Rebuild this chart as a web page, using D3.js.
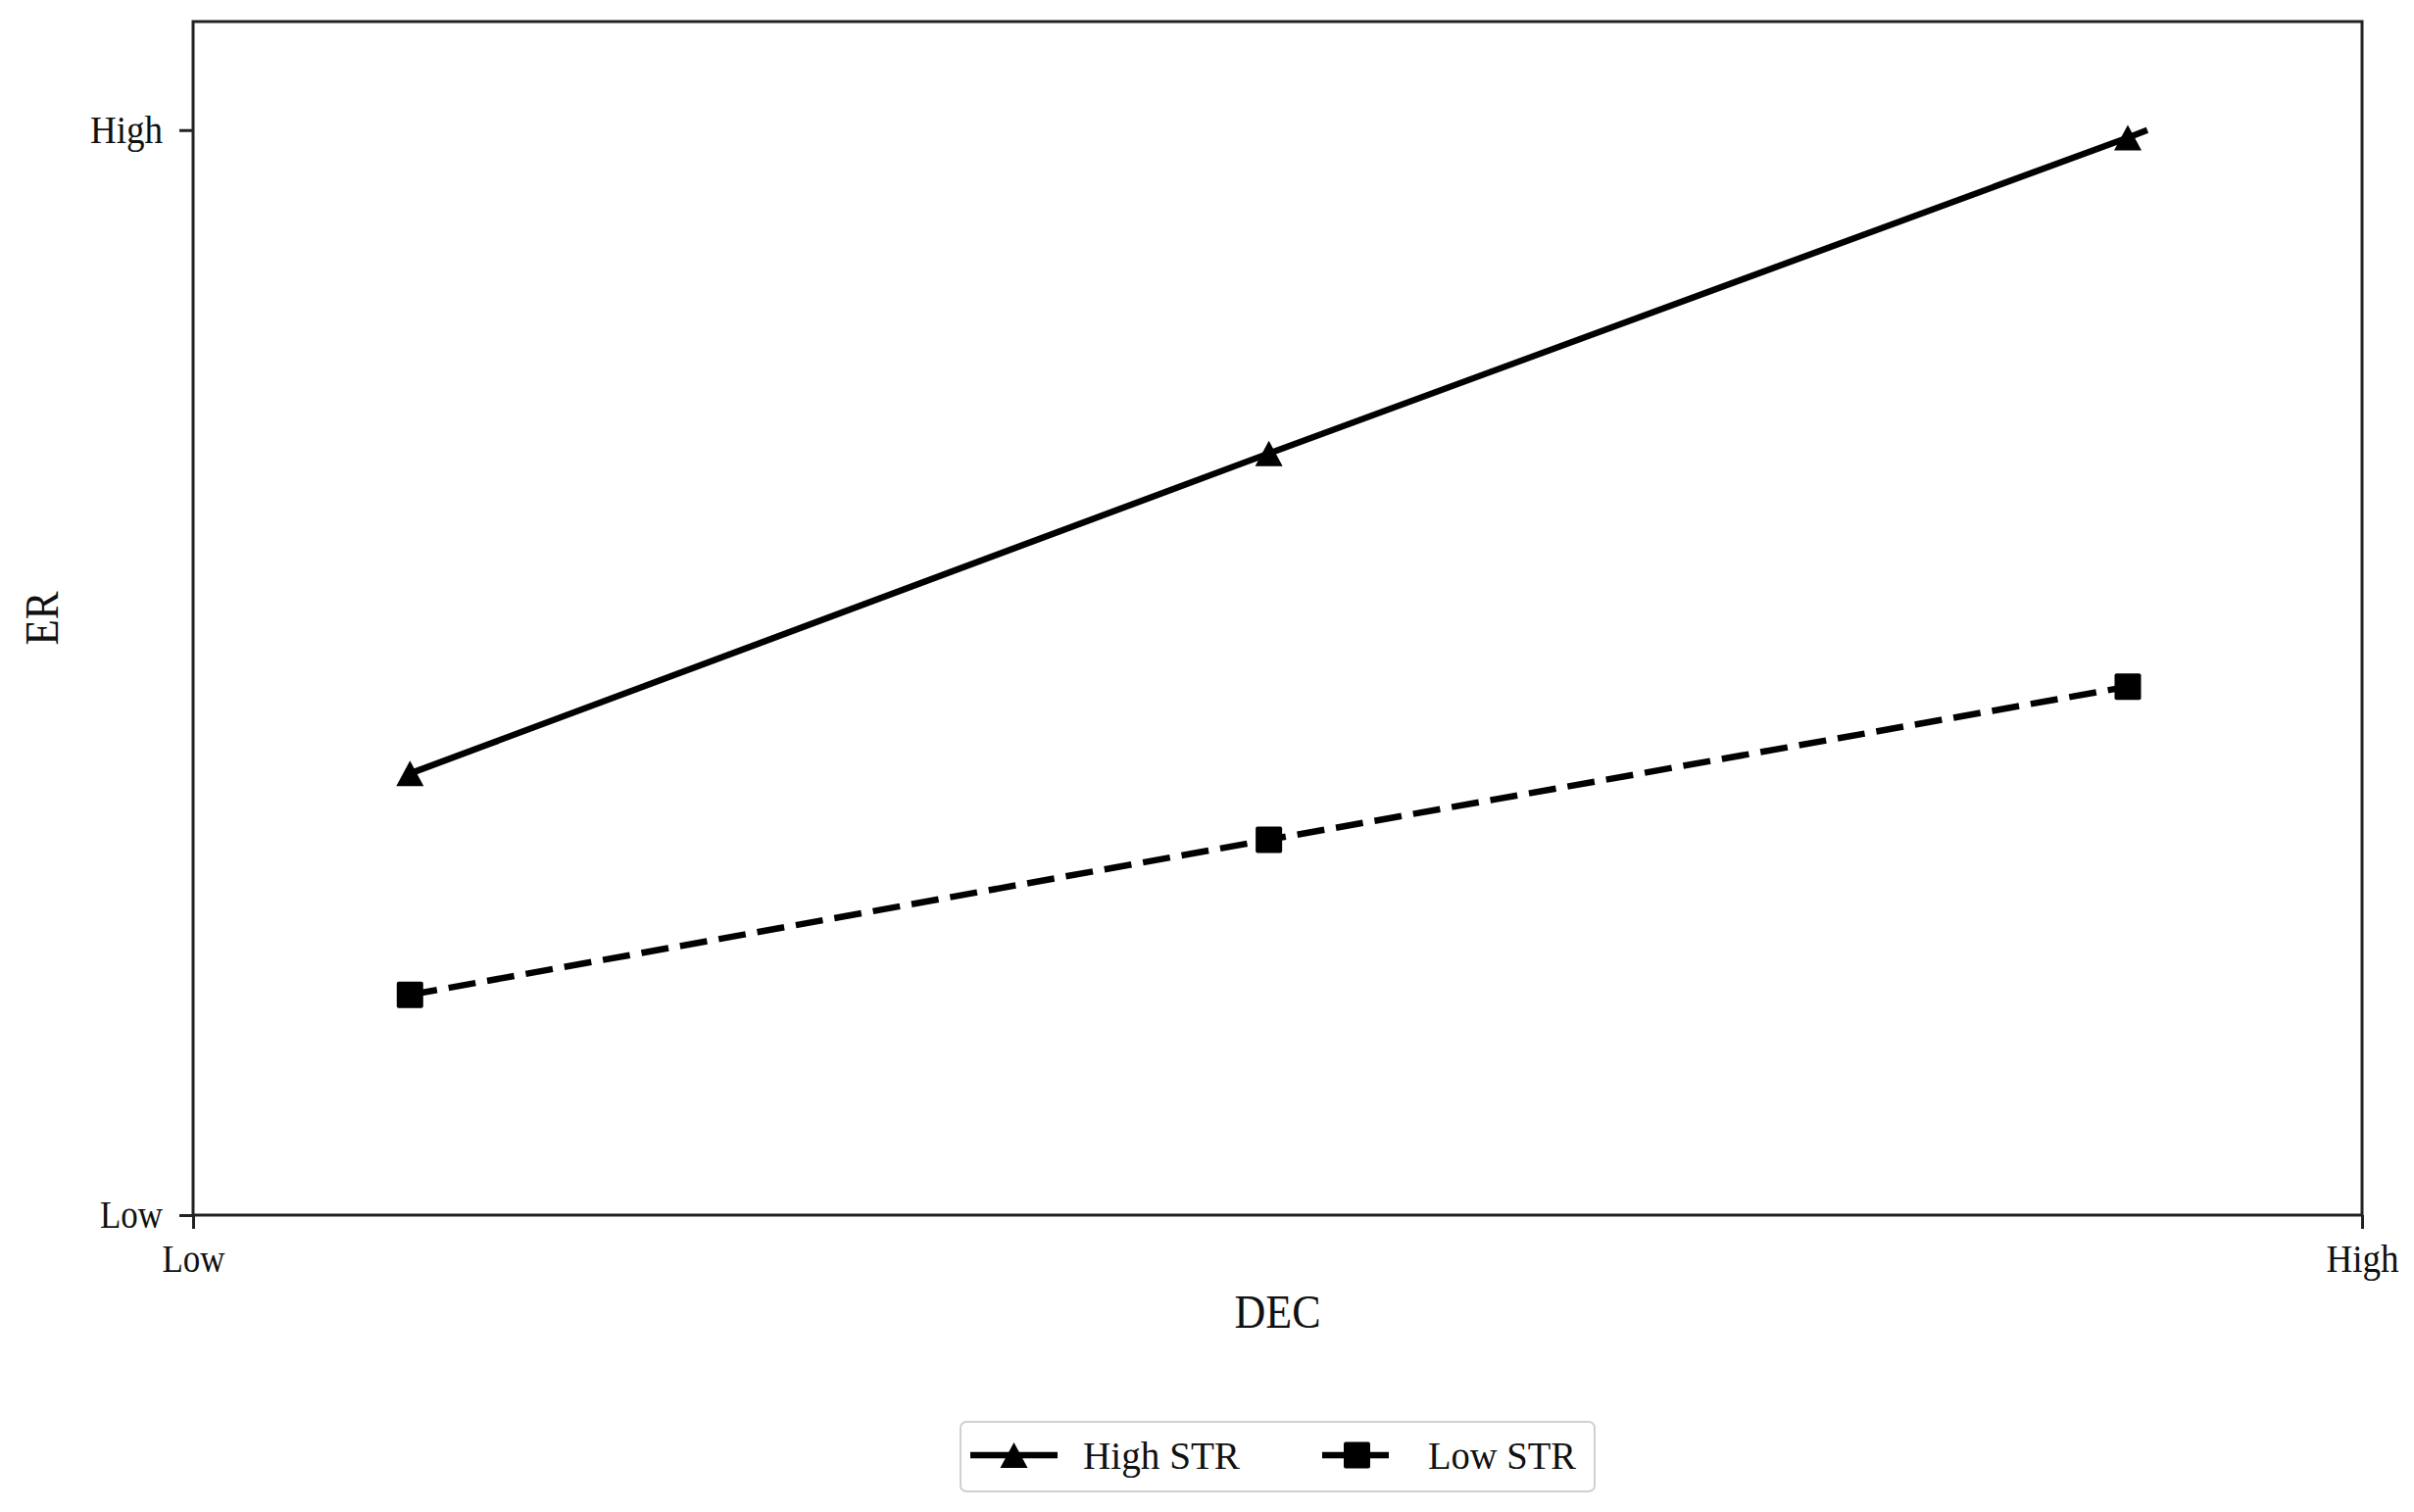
<!DOCTYPE html>
<html>
<head>
<meta charset="utf-8">
<script src="https://cdn.jsdelivr.net/npm/d3@7"></script>
<style>
  body { margin: 0; background: #fff; }
  text { font-family: "Liberation Serif", "Times New Roman", serif; fill: #111; }
</style>
</head>
<body>
<div id="chart"></div>
<script>
// data (x and y on a 0..1 "Low".."High" scale)

var decLevels = [0.1, 0.496, 0.892];
var highSTR = [0.407, 0.702, 0.993];
var lowSTR = [0.203, 0.346, 0.487];
// the solid line runs a little past its last marker
var highTail = [0.901, 1.0];

var xTicks = [0, 1];
var yTicks = [0, 1];
var tickNames = ["Low", "High"];
var seriesNames = ["High STR", "Low STR"];

// initial settings

var svgWidth = 2463;
var svgHeight = 1543;

var margin = { top: 22, right: 53, bottom: 303, left: 197 };
var width = svgWidth - margin.left - margin.right;
var height = svgHeight - margin.top - margin.bottom;

var svg = d3.select("#chart")
  .append("svg")
  .attr("width", svgWidth)
  .attr("height", svgHeight);

var chart = svg.append("g")
  .attr("transform", `translate(${margin.left}, ${margin.top})`);

var xline = d3.scaleLinear().domain([0, 1]).range([0, width]);
var yline = d3.scaleLinear().domain([0, 1.1]).range([height, 0]);

// axes

var bottom = d3.axisBottom(xline)
  .tickValues(xTicks)
  .tickFormat((d, i) => tickNames[i])
  .tickSize(14)
  .tickPadding(16);

var left = d3.axisLeft(yline)
  .tickValues(yTicks)
  .tickFormat((d, i) => tickNames[i])
  .tickSize(14)
  .tickPadding(17);

var xaxis = chart.append("g")
  .attr("transform", `translate(0, ${height})`)
  .call(bottom);

var yaxis = chart.append("g").call(left);

[xaxis, yaxis].forEach(ax => {
  ax.select(".domain").remove();
  ax.selectAll("line").attr("stroke", "#222").attr("stroke-width", 3);
  ax.selectAll("text")
    .attr("font-size", 40)
    .style("font-family", "'Liberation Serif', serif")
    .attr("fill", "#111")
    .attr("textLength", (d, i) => i == 0 ? 64 : 74)
    .attr("lengthAdjust", "spacingAndGlyphs");
});

// frame

chart.append("rect")
  .attr("x", 0)
  .attr("y", 0)
  .attr("width", width)
  .attr("height", height)
  .attr("fill", "none")
  .attr("stroke", "#222")
  .attr("stroke-width", 3);

// axis labels

chart.append("text")
  .attr("x", width / 2)
  .attr("y", height + 115)
  .attr("text-anchor", "middle")
  .attr("font-size", 48)
  .attr("textLength", 88)
  .attr("lengthAdjust", "spacingAndGlyphs")
  .text("DEC");

svg.append("text")
  .attr("transform", `translate(59, ${margin.top + height / 2}) rotate(-90)`)
  .attr("text-anchor", "middle")
  .attr("font-size", 48)
  .attr("textLength", 55)
  .attr("lengthAdjust", "spacingAndGlyphs")
  .text("ER");

// lines

var highPts = decLevels.map((d, i) => [d, highSTR[i]]).concat([highTail]);
var lowPts = decLevels.map((d, i) => [d, lowSTR[i]]);

var lineGen = d3.line()
  .x(d => xline(d[0]))
  .y(d => yline(d[1]));

chart.append("path")
  .datum(highPts)
  .attr("d", lineGen)
  .attr("fill", "none")
  .attr("stroke", "#000")
  .attr("stroke-width", 6.5);

chart.append("path")
  .datum(lowPts)
  .attr("d", lineGen)
  .attr("fill", "none")
  .attr("stroke", "#000")
  .attr("stroke-width", 6.5)
  .attr("stroke-dasharray", "28,12");

// markers

var triangle = "M0,-13L14,13L-14,13Z";

chart.selectAll(".tri")
  .data(decLevels)
  .enter()
  .append("path")
  .attr("class", "tri")
  .attr("d", triangle)
  .attr("transform", (d, i) => `translate(${xline(d)}, ${yline(highSTR[i])})`)
  .attr("fill", "#000");

chart.selectAll(".sq")
  .data(decLevels)
  .enter()
  .append("rect")
  .attr("class", "sq")
  .attr("x", d => xline(d) - 13.5)
  .attr("y", (d, i) => yline(lowSTR[i]) - 13.5)
  .attr("width", 27)
  .attr("height", 27)
  .attr("rx", 2)
  .attr("fill", "#000");

// legend

var legend = svg.append("g")
  .attr("transform", "translate(980, 1451)");

legend.append("rect")
  .attr("width", 647)
  .attr("height", 71)
  .attr("rx", 6)
  .attr("fill", "#fff")
  .attr("stroke", "#d0d0d0")
  .attr("stroke-width", 2);

var items = [
  { name: seriesNames[0], x0: 10, x1: 99, tx: 125, tl: 160, dash: null, mark: "tri" },
  { name: seriesNames[1], x0: 369, x1: 440, tx: 477, tl: 151, dash: "28,12", mark: "sq" }
];

items.forEach(it => {
  legend.append("line")
    .attr("x1", it.x0)
    .attr("x2", it.x1)
    .attr("y1", 34)
    .attr("y2", 34)
    .attr("stroke", "#000")
    .attr("stroke-width", 6.5)
    .attr("stroke-dasharray", it.dash);
  var cx = (it.x0 + it.x1) / 2;
  if (it.mark == "tri") {
    legend.append("path")
      .attr("d", triangle)
      .attr("transform", `translate(${cx}, 34)`)
      .attr("fill", "#000");
  } else {
    legend.append("rect")
      .attr("x", cx - 13.5)
      .attr("y", 20.5)
      .attr("width", 27)
      .attr("height", 27)
      .attr("rx", 2)
      .attr("fill", "#000");
  }
  legend.append("text")
    .attr("x", it.tx)
    .attr("y", 48)
    .attr("font-size", 40)
    .attr("textLength", it.tl)
    .attr("lengthAdjust", "spacingAndGlyphs")
    .text(it.name);
});
</script>
</body>
</html>
